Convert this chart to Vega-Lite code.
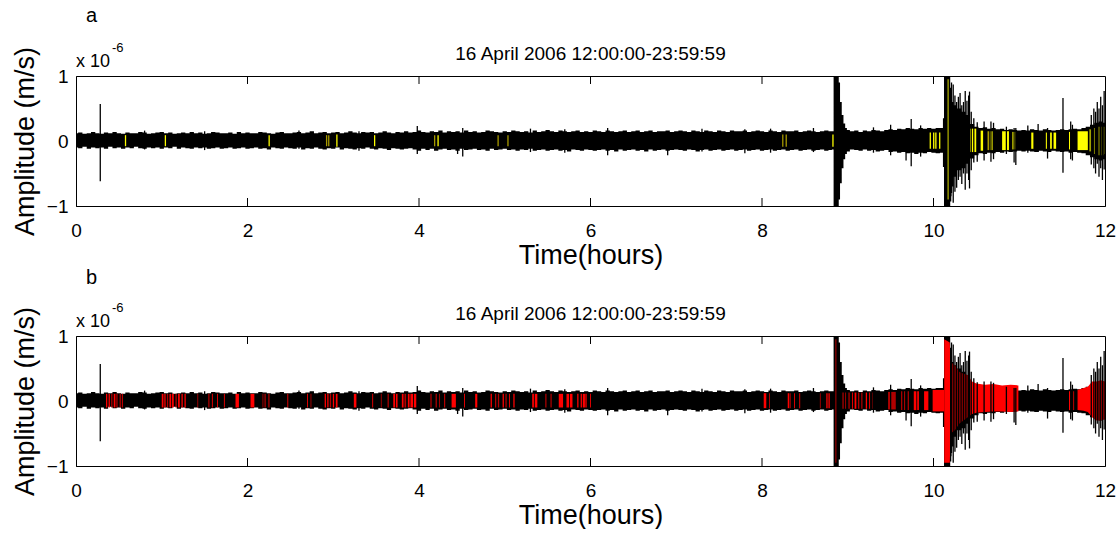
{
  "$schema": "https://vega.github.io/schema/vega-lite/v6.json",
  "background": "white",
  "padding": {"left": 10, "top": 5, "right": 0, "bottom": 0},
  "spacing": -2,
  "resolve": {"scale": {"color": "independent"}},
  "config": {
    "font": "Liberation Sans",
    "view": {"stroke": "black", "strokeWidth": 1},
    "axis": {"domainColor": "black", "labelColor": "black", "titleColor": "black", "labelFont": "Liberation Sans", "titleFont": "Liberation Sans", "labelFontSize": 19, "titleFontSize": 27, "titleFontWeight": "normal", "ticks": false, "grid": false, "format": "d"}
  },
  "datasets": {
    "env": [
      {"t":0,"hi":0.12,"lo":-0.10},{"t":0.05,"hi":0.13,"lo":-0.11},{"t":0.1,"hi":0.11,"lo":-0.09},{"t":0.15,"hi":0.12,"lo":-0.12},{"t":0.2,"hi":0.14,"lo":-0.10},{"t":0.25,"hi":0.12,"lo":-0.11},{"t":0.3,"hi":0.11,"lo":-0.10},{"t":0.35,"hi":0.13,"lo":-0.12},{"t":0.4,"hi":0.12,"lo":-0.09},{"t":0.45,"hi":0.14,"lo":-0.11},
      {"t":0.5,"hi":0.12,"lo":-0.10},{"t":0.55,"hi":0.11,"lo":-0.12},{"t":0.6,"hi":0.13,"lo":-0.10},{"t":0.65,"hi":0.12,"lo":-0.11},{"t":0.7,"hi":0.12,"lo":-0.09},{"t":0.75,"hi":0.14,"lo":-0.11},{"t":0.8,"hi":0.13,"lo":-0.12},{"t":0.85,"hi":0.11,"lo":-0.10},{"t":0.9,"hi":0.12,"lo":-0.11},{"t":0.95,"hi":0.13,"lo":-0.10},
      {"t":1.0,"hi":0.14,"lo":-0.12},{"t":1.05,"hi":0.12,"lo":-0.10},{"t":1.1,"hi":0.13,"lo":-0.11},{"t":1.15,"hi":0.11,"lo":-0.09},{"t":1.2,"hi":0.12,"lo":-0.12},{"t":1.25,"hi":0.13,"lo":-0.10},{"t":1.3,"hi":0.12,"lo":-0.11},{"t":1.35,"hi":0.14,"lo":-0.12},{"t":1.4,"hi":0.12,"lo":-0.10},{"t":1.45,"hi":0.13,"lo":-0.11},
      {"t":1.5,"hi":0.11,"lo":-0.10},{"t":1.55,"hi":0.12,"lo":-0.12},{"t":1.6,"hi":0.14,"lo":-0.11},{"t":1.65,"hi":0.13,"lo":-0.10},{"t":1.7,"hi":0.12,"lo":-0.12},{"t":1.75,"hi":0.12,"lo":-0.11},{"t":1.8,"hi":0.13,"lo":-0.10},{"t":1.85,"hi":0.11,"lo":-0.12},{"t":1.9,"hi":0.14,"lo":-0.11},{"t":1.95,"hi":0.12,"lo":-0.10},
      {"t":2.0,"hi":0.13,"lo":-0.12},{"t":2.05,"hi":0.12,"lo":-0.11},{"t":2.1,"hi":0.12,"lo":-0.10},{"t":2.15,"hi":0.14,"lo":-0.12},{"t":2.2,"hi":0.13,"lo":-0.11},{"t":2.25,"hi":0.12,"lo":-0.13},{"t":2.3,"hi":0.11,"lo":-0.10},{"t":2.35,"hi":0.13,"lo":-0.11},{"t":2.4,"hi":0.14,"lo":-0.12},{"t":2.45,"hi":0.12,"lo":-0.10},
      {"t":2.5,"hi":0.12,"lo":-0.11},{"t":2.55,"hi":0.13,"lo":-0.12},{"t":2.6,"hi":0.14,"lo":-0.10},{"t":2.65,"hi":0.12,"lo":-0.13},{"t":2.7,"hi":0.13,"lo":-0.11},{"t":2.75,"hi":0.15,"lo":-0.12},{"t":2.8,"hi":0.12,"lo":-0.10},{"t":2.85,"hi":0.13,"lo":-0.12},{"t":2.9,"hi":0.14,"lo":-0.13},{"t":2.95,"hi":0.12,"lo":-0.11},
      {"t":3.0,"hi":0.13,"lo":-0.12},{"t":3.05,"hi":0.14,"lo":-0.10},{"t":3.1,"hi":0.12,"lo":-0.13},{"t":3.15,"hi":0.13,"lo":-0.11},{"t":3.2,"hi":0.15,"lo":-0.12},{"t":3.25,"hi":0.13,"lo":-0.13},{"t":3.3,"hi":0.12,"lo":-0.11},{"t":3.35,"hi":0.14,"lo":-0.12},{"t":3.4,"hi":0.13,"lo":-0.10},{"t":3.45,"hi":0.14,"lo":-0.12},
      {"t":3.5,"hi":0.12,"lo":-0.13},{"t":3.55,"hi":0.13,"lo":-0.11},{"t":3.6,"hi":0.15,"lo":-0.12},{"t":3.65,"hi":0.13,"lo":-0.14},{"t":3.7,"hi":0.12,"lo":-0.11},{"t":3.75,"hi":0.14,"lo":-0.12},{"t":3.8,"hi":0.13,"lo":-0.13},{"t":3.85,"hi":0.15,"lo":-0.12},{"t":3.9,"hi":0.13,"lo":-0.11},{"t":3.95,"hi":0.14,"lo":-0.13},{"t":4.0,"hi":0.16,"lo":-0.15},
      {"t":4.05,"hi":0.14,"lo":-0.12},{"t":4.1,"hi":0.13,"lo":-0.14},{"t":4.15,"hi":0.15,"lo":-0.12},{"t":4.2,"hi":0.14,"lo":-0.15},{"t":4.25,"hi":0.16,"lo":-0.13},{"t":4.3,"hi":0.13,"lo":-0.12},{"t":4.35,"hi":0.15,"lo":-0.14},{"t":4.4,"hi":0.14,"lo":-0.13},{"t":4.45,"hi":0.15,"lo":-0.15},{"t":4.5,"hi":0.13,"lo":-0.12},
      {"t":4.55,"hi":0.16,"lo":-0.14},{"t":4.6,"hi":0.14,"lo":-0.13},{"t":4.65,"hi":0.15,"lo":-0.12},{"t":4.7,"hi":0.13,"lo":-0.14},{"t":4.75,"hi":0.14,"lo":-0.13},{"t":4.8,"hi":0.16,"lo":-0.15},{"t":4.85,"hi":0.15,"lo":-0.12},{"t":4.9,"hi":0.14,"lo":-0.14},{"t":4.95,"hi":0.13,"lo":-0.13},{"t":5.0,"hi":0.15,"lo":-0.12},
      {"t":5.05,"hi":0.14,"lo":-0.14},{"t":5.1,"hi":0.16,"lo":-0.13},{"t":5.15,"hi":0.15,"lo":-0.15},{"t":5.2,"hi":0.14,"lo":-0.13},{"t":5.25,"hi":0.15,"lo":-0.14},{"t":5.3,"hi":0.13,"lo":-0.12},{"t":5.35,"hi":0.16,"lo":-0.15},{"t":5.4,"hi":0.14,"lo":-0.14},{"t":5.45,"hi":0.15,"lo":-0.13},{"t":5.5,"hi":0.17,"lo":-0.15},
      {"t":5.55,"hi":0.15,"lo":-0.14},{"t":5.6,"hi":0.14,"lo":-0.13},{"t":5.65,"hi":0.16,"lo":-0.15},{"t":5.7,"hi":0.15,"lo":-0.14},{"t":5.75,"hi":0.14,"lo":-0.16},{"t":5.8,"hi":0.15,"lo":-0.13},{"t":5.85,"hi":0.16,"lo":-0.14},{"t":5.9,"hi":0.14,"lo":-0.15},{"t":5.95,"hi":0.15,"lo":-0.13},{"t":6.0,"hi":0.14,"lo":-0.14},
      {"t":6.05,"hi":0.16,"lo":-0.15},{"t":6.1,"hi":0.15,"lo":-0.14},{"t":6.15,"hi":0.14,"lo":-0.13},{"t":6.2,"hi":0.16,"lo":-0.15},{"t":6.25,"hi":0.15,"lo":-0.14},{"t":6.3,"hi":0.14,"lo":-0.16},{"t":6.35,"hi":0.15,"lo":-0.13},{"t":6.4,"hi":0.16,"lo":-0.15},{"t":6.45,"hi":0.14,"lo":-0.14},{"t":6.5,"hi":0.15,"lo":-0.13},
      {"t":6.55,"hi":0.16,"lo":-0.15},{"t":6.6,"hi":0.14,"lo":-0.14},{"t":6.65,"hi":0.15,"lo":-0.16},{"t":6.7,"hi":0.16,"lo":-0.13},{"t":6.75,"hi":0.14,"lo":-0.15},{"t":6.8,"hi":0.15,"lo":-0.14},{"t":6.85,"hi":0.15,"lo":-0.13},{"t":6.9,"hi":0.16,"lo":-0.15},{"t":6.95,"hi":0.14,"lo":-0.14},{"t":7.0,"hi":0.15,"lo":-0.13},
      {"t":7.05,"hi":0.16,"lo":-0.14},{"t":7.1,"hi":0.15,"lo":-0.15},{"t":7.15,"hi":0.14,"lo":-0.13},{"t":7.2,"hi":0.16,"lo":-0.14},{"t":7.25,"hi":0.15,"lo":-0.16},{"t":7.3,"hi":0.14,"lo":-0.14},{"t":7.35,"hi":0.16,"lo":-0.13},{"t":7.4,"hi":0.15,"lo":-0.15},{"t":7.45,"hi":0.14,"lo":-0.14},{"t":7.5,"hi":0.16,"lo":-0.13},
      {"t":7.55,"hi":0.15,"lo":-0.15},{"t":7.6,"hi":0.14,"lo":-0.14},{"t":7.65,"hi":0.16,"lo":-0.13},{"t":7.7,"hi":0.15,"lo":-0.15},{"t":7.75,"hi":0.15,"lo":-0.14},{"t":7.8,"hi":0.16,"lo":-0.13},{"t":7.85,"hi":0.14,"lo":-0.15},{"t":7.9,"hi":0.15,"lo":-0.14},{"t":7.95,"hi":0.16,"lo":-0.13},{"t":8.0,"hi":0.15,"lo":-0.15},
      {"t":8.05,"hi":0.14,"lo":-0.14},{"t":8.1,"hi":0.16,"lo":-0.13},{"t":8.15,"hi":0.15,"lo":-0.15},{"t":8.2,"hi":0.14,"lo":-0.14},{"t":8.25,"hi":0.16,"lo":-0.13},{"t":8.3,"hi":0.15,"lo":-0.15},{"t":8.35,"hi":0.15,"lo":-0.14},{"t":8.4,"hi":0.16,"lo":-0.13},{"t":8.45,"hi":0.14,"lo":-0.15},{"t":8.5,"hi":0.15,"lo":-0.14},
      {"t":8.55,"hi":0.16,"lo":-0.13},{"t":8.6,"hi":0.15,"lo":-0.15},{"t":8.65,"hi":0.14,"lo":-0.14},{"t":8.7,"hi":0.15,"lo":-0.13},{"t":8.75,"hi":0.16,"lo":-0.15},{"t":8.8,"hi":0.15,"lo":-0.14},
      {"t":8.83,"hi":0.15,"lo":-0.13},{"t":8.84,"hi":1,"lo":-1},{"t":8.89,"hi":1,"lo":-1},{"t":8.9,"hi":0.9,"lo":-0.9},{"t":8.92,"hi":0.6,"lo":-0.65},{"t":8.94,"hi":0.4,"lo":-0.42},{"t":8.96,"hi":0.27,"lo":-0.28},{"t":8.98,"hi":0.2,"lo":-0.2},{"t":9.0,"hi":0.17,"lo":-0.16},
      {"t":9.05,"hi":0.15,"lo":-0.13},{"t":9.1,"hi":0.16,"lo":-0.14},{"t":9.15,"hi":0.14,"lo":-0.15},{"t":9.2,"hi":0.16,"lo":-0.13},{"t":9.25,"hi":0.15,"lo":-0.15},{"t":9.3,"hi":0.17,"lo":-0.14},{"t":9.35,"hi":0.16,"lo":-0.16},{"t":9.4,"hi":0.15,"lo":-0.15},{"t":9.45,"hi":0.17,"lo":-0.14},{"t":9.5,"hi":0.18,"lo":-0.17},
      {"t":9.55,"hi":0.17,"lo":-0.16},{"t":9.6,"hi":0.19,"lo":-0.18},{"t":9.65,"hi":0.18,"lo":-0.17},{"t":9.7,"hi":0.2,"lo":-0.19},{"t":9.75,"hi":0.19,"lo":-0.18},{"t":9.8,"hi":0.18,"lo":-0.2},{"t":9.85,"hi":0.2,"lo":-0.18},{"t":9.9,"hi":0.19,"lo":-0.19},{"t":9.95,"hi":0.2,"lo":-0.17},
      {"t":10.0,"hi":0.19,"lo":-0.18},{"t":10.05,"hi":0.2,"lo":-0.19},{"t":10.1,"hi":0.2,"lo":-0.18},{"t":10.12,"hi":0.35,"lo":-0.4},{"t":10.125,"hi":1,"lo":-1},{"t":10.19,"hi":1,"lo":-1},{"t":10.2,"hi":0.75,"lo":-0.85},{"t":10.22,"hi":0.6,"lo":-0.7},{"t":10.25,"hi":0.55,"lo":-0.55},{"t":10.3,"hi":0.5,"lo":-0.45},{"t":10.35,"hi":0.45,"lo":-0.42},{"t":10.4,"hi":0.4,"lo":-0.35},{"t":10.45,"hi":0.26,"lo":-0.27},{"t":10.5,"hi":0.22,"lo":-0.22},
      {"t":10.55,"hi":0.2,"lo":-0.19},{"t":10.6,"hi":0.21,"lo":-0.2},{"t":10.65,"hi":0.19,"lo":-0.18},{"t":10.7,"hi":0.2,"lo":-0.19},{"t":10.75,"hi":0.18,"lo":-0.17},{"t":10.8,"hi":0.19,"lo":-0.18},{"t":10.85,"hi":0.17,"lo":-0.16},{"t":10.9,"hi":0.18,"lo":-0.17},{"t":10.95,"hi":0.17,"lo":-0.16},{"t":11.0,"hi":0.16,"lo":-0.15},
      {"t":11.05,"hi":0.17,"lo":-0.16},{"t":11.1,"hi":0.16,"lo":-0.15},{"t":11.15,"hi":0.18,"lo":-0.16},{"t":11.2,"hi":0.17,"lo":-0.17},{"t":11.25,"hi":0.16,"lo":-0.15},{"t":11.3,"hi":0.18,"lo":-0.16},{"t":11.35,"hi":0.17,"lo":-0.17},{"t":11.4,"hi":0.16,"lo":-0.15},{"t":11.45,"hi":0.17,"lo":-0.16},{"t":11.5,"hi":0.18,"lo":-0.17},
      {"t":11.55,"hi":0.17,"lo":-0.16},{"t":11.6,"hi":0.18,"lo":-0.18},{"t":11.65,"hi":0.19,"lo":-0.17},{"t":11.7,"hi":0.18,"lo":-0.18},{"t":11.75,"hi":0.2,"lo":-0.19},{"t":11.8,"hi":0.22,"lo":-0.22},{"t":11.85,"hi":0.25,"lo":-0.25},{"t":11.9,"hi":0.28,"lo":-0.28},{"t":11.95,"hi":0.3,"lo":-0.3},{"t":12.0,"hi":0.28,"lo":-0.28}
    ],
    "spk": [
      {"t":0.283,"hi":0.57,"lo":-0.62},
      {"t":0.8,"hi":0.16,"lo":-0.13},{"t":1.5,"hi":0.15,"lo":-0.14},{"t":2.6,"hi":0.16,"lo":-0.12},{"t":3.3,"hi":0.15,"lo":-0.15},{"t":3.98,"hi":0.23,"lo":-0.2},{"t":4.45,"hi":0.14,"lo":-0.2},{"t":4.51,"hi":0.2,"lo":-0.24},{"t":5.3,"hi":0.19,"lo":-0.17},{"t":5.7,"hi":0.18,"lo":-0.18},{"t":6.2,"hi":0.2,"lo":-0.22},{"t":6.9,"hi":0.14,"lo":-0.22},{"t":7.3,"hi":0.19,"lo":-0.16},{"t":7.8,"hi":0.18,"lo":-0.19},{"t":8.1,"hi":0.19,"lo":-0.18},{"t":8.6,"hi":0.2,"lo":-0.17},
      {"t":9.3,"hi":0.21,"lo":-0.18},{"t":9.5,"hi":0.25,"lo":-0.22},{"t":9.68,"hi":0.18,"lo":-0.3},{"t":9.74,"hi":0.34,"lo":-0.39},{"t":9.85,"hi":0.24,"lo":-0.24},
      {"t":10.2,"hi":0.82,"lo":-0.93},{"t":10.21,"hi":0.9,"lo":-0.8},{"t":10.23,"hi":0.87,"lo":-0.95},{"t":10.25,"hi":0.7,"lo":-0.78},{"t":10.27,"hi":0.6,"lo":-0.72},{"t":10.29,"hi":0.68,"lo":-0.6},{"t":10.31,"hi":0.74,"lo":-0.55},{"t":10.33,"hi":0.55,"lo":-0.66},{"t":10.35,"hi":0.6,"lo":-0.5},{"t":10.37,"hi":0.77,"lo":-0.75},{"t":10.39,"hi":0.62,"lo":-0.5},{"t":10.41,"hi":0.7,"lo":-0.6},{"t":10.42,"hi":0.76,"lo":-0.73},{"t":10.44,"hi":0.45,"lo":-0.45},{"t":10.47,"hi":0.35,"lo":-0.33},{"t":10.51,"hi":0.29,"lo":-0.32},{"t":10.59,"hi":0.3,"lo":-0.3},{"t":10.67,"hi":0.3,"lo":-0.32},{"t":10.7,"hi":0.28,"lo":-0.28},{"t":10.85,"hi":0.22,"lo":-0.2},{"t":10.94,"hi":0.2,"lo":-0.33},{"t":10.96,"hi":0.2,"lo":-0.37},{"t":11.1,"hi":0.24,"lo":-0.18},{"t":11.22,"hi":0.26,"lo":-0.17},{"t":11.33,"hi":0.2,"lo":-0.27},{"t":11.51,"hi":0.66,"lo":-0.49},{"t":11.6,"hi":0.3,"lo":-0.28},{"t":11.62,"hi":0.25,"lo":-0.3},{"t":11.84,"hi":0.4,"lo":-0.36},{"t":11.87,"hi":0.5,"lo":-0.42},{"t":11.89,"hi":0.45,"lo":-0.5},{"t":11.91,"hi":0.6,"lo":-0.35},{"t":11.93,"hi":0.5,"lo":-0.55},{"t":11.95,"hi":0.68,"lo":-0.42},{"t":11.97,"hi":0.55,"lo":-0.6},{"t":11.99,"hi":0.77,"lo":-0.44}
    ],
    "ticks": [
      {"t":2,"a":1,"b":0.877},{"t":4,"a":1,"b":0.877},{"t":6,"a":1,"b":0.877},{"t":8,"a":1,"b":0.877},{"t":10,"a":1,"b":0.877},
      {"t":2,"a":-1,"b":-0.877},{"t":4,"a":-1,"b":-0.877},{"t":6,"a":-1,"b":-0.877},{"t":8,"a":-1,"b":-0.877},{"t":10,"a":-1,"b":-0.877}
    ],
    "ya": [
      {"t0":0.57,"t1":0.585,"hi":0.09,"lo":-0.08,"k":"bright"},{"t0":1.035,"t1":1.05,"hi":0.09,"lo":-0.08,"k":"bright"},{"t0":2.245,"t1":2.26,"hi":0.09,"lo":-0.08,"k":"bright"},{"t0":2.915,"t1":2.93,"hi":0.09,"lo":-0.08,"k":"dim"},{"t0":2.94,"t1":2.955,"hi":0.09,"lo":-0.08,"k":"dim"},{"t0":3.035,"t1":3.05,"hi":0.1,"lo":-0.09,"k":"bright"},{"t0":3.475,"t1":3.49,"hi":0.09,"lo":-0.08,"k":"bright"},{"t0":4.175,"t1":4.19,"hi":0.09,"lo":-0.08,"k":"dim"},{"t0":4.215,"t1":4.23,"hi":0.09,"lo":-0.08,"k":"bright"},{"t0":4.915,"t1":4.93,"hi":0.09,"lo":-0.08,"k":"dim"},{"t0":5.03,"t1":5.045,"hi":0.09,"lo":-0.08,"k":"dim"},
      {"t0":8.235,"t1":8.25,"hi":0.1,"lo":-0.09,"k":"dim"},{"t0":8.275,"t1":8.29,"hi":0.1,"lo":-0.09,"k":"dim"},{"t0":8.82,"t1":8.835,"hi":0.1,"lo":-0.09,"k":"bright"},
      {"t0":9.955,"t1":9.97,"hi":0.13,"lo":-0.12,"k":"bright"},{"t0":9.995,"t1":10.01,"hi":0.13,"lo":-0.12,"k":"bright"},{"t0":10.02,"t1":10.035,"hi":0.13,"lo":-0.12,"k":"bright"},{"t0":10.065,"t1":10.08,"hi":0.13,"lo":-0.12,"k":"bright"},{"t0":10.165,"t1":10.175,"hi":0.95,"lo":-0.9,"k":"bright"},
      {"t0":10.42,"t1":10.5,"hi":0.19,"lo":-0.17,"k":"bright"},{"t0":10.55,"t1":10.58,"hi":0.16,"lo":-0.15,"k":"bright"},{"t0":10.63,"t1":10.65,"hi":0.15,"lo":-0.14,"k":"dim"},{"t0":10.66,"t1":10.69,"hi":0.15,"lo":-0.14,"k":"bright"},{"t0":10.8,"t1":10.88,"hi":0.15,"lo":-0.14,"k":"bright"},{"t0":10.92,"t1":10.96,"hi":0.14,"lo":-0.13,"k":"bright"},{"t0":11.14,"t1":11.165,"hi":0.13,"lo":-0.12,"k":"bright"},{"t0":11.31,"t1":11.325,"hi":0.13,"lo":-0.12,"k":"bright"},{"t0":11.36,"t1":11.38,"hi":0.13,"lo":-0.12,"k":"bright"},{"t0":11.4,"t1":11.43,"hi":0.13,"lo":-0.12,"k":"bright"},{"t0":11.58,"t1":11.595,"hi":0.14,"lo":-0.13,"k":"bright"},{"t0":11.68,"t1":11.8,"hi":0.15,"lo":-0.14,"k":"bright"},{"t0":11.82,"t1":11.84,"hi":0.18,"lo":-0.16,"k":"bright"},{"t0":11.87,"t1":11.89,"hi":0.2,"lo":-0.2,"k":"bright"},{"t0":11.92,"t1":11.94,"hi":0.22,"lo":-0.22,"k":"bright"},{"t0":11.96,"t1":11.98,"hi":0.22,"lo":-0.22,"k":"bright"},{"t0":11.99,"t1":12.0,"hi":0.22,"lo":-0.2,"k":"bright"}
    ],
    "rs": [
      {"t0":0.35,"t1":0.365,"hi":0.11,"lo":-0.1,"k":"bright"},{"t0":0.38,"t1":0.395,"hi":0.11,"lo":-0.1,"k":"bright"},{"t0":0.41,"t1":0.425,"hi":0.11,"lo":-0.1,"k":"dim"},{"t0":0.44,"t1":0.46,"hi":0.11,"lo":-0.1,"k":"bright"},{"t0":0.47,"t1":0.485,"hi":0.11,"lo":-0.1,"k":"dim"},{"t0":0.51,"t1":0.52,"hi":0.11,"lo":-0.1,"k":"bright"},{"t0":0.535,"t1":0.545,"hi":0.11,"lo":-0.1,"k":"bright"},
      {"t0":1.0,"t1":1.02,"hi":0.11,"lo":-0.1,"k":"bright"},{"t0":1.03,"t1":1.045,"hi":0.11,"lo":-0.1,"k":"bright"},{"t0":1.06,"t1":1.075,"hi":0.11,"lo":-0.1,"k":"dim"},{"t0":1.09,"t1":1.11,"hi":0.11,"lo":-0.1,"k":"bright"},{"t0":1.12,"t1":1.14,"hi":0.11,"lo":-0.1,"k":"bright"},{"t0":1.16,"t1":1.175,"hi":0.11,"lo":-0.1,"k":"dim"},{"t0":1.19,"t1":1.21,"hi":0.11,"lo":-0.1,"k":"bright"},{"t0":1.23,"t1":1.245,"hi":0.11,"lo":-0.1,"k":"bright"},{"t0":1.265,"t1":1.28,"hi":0.11,"lo":-0.1,"k":"bright"},
      {"t0":1.415,"t1":1.425,"hi":0.11,"lo":-0.1,"k":"dim"},{"t0":1.545,"t1":1.555,"hi":0.11,"lo":-0.1,"k":"bright"},{"t0":1.585,"t1":1.595,"hi":0.11,"lo":-0.1,"k":"bright"},{"t0":1.645,"t1":1.655,"hi":0.11,"lo":-0.1,"k":"bright"},{"t0":1.725,"t1":1.735,"hi":0.11,"lo":-0.1,"k":"bright"},{"t0":1.86,"t1":1.9,"hi":0.11,"lo":-0.1,"k":"bright"},{"t0":2.035,"t1":2.08,"hi":0.11,"lo":-0.1,"k":"bright"},{"t0":2.175,"t1":2.185,"hi":0.11,"lo":-0.1,"k":"dim"},{"t0":2.2,"t1":2.21,"hi":0.11,"lo":-0.1,"k":"bright"},{"t0":2.245,"t1":2.255,"hi":0.11,"lo":-0.1,"k":"bright"},{"t0":2.465,"t1":2.475,"hi":0.11,"lo":-0.1,"k":"bright"},
      {"t0":2.695,"t1":2.705,"hi":0.11,"lo":-0.1,"k":"bright"},{"t0":2.735,"t1":2.745,"hi":0.11,"lo":-0.1,"k":"dim"},{"t0":2.9,"t1":2.915,"hi":0.11,"lo":-0.1,"k":"bright"},{"t0":2.93,"t1":2.945,"hi":0.11,"lo":-0.1,"k":"bright"},{"t0":2.96,"t1":2.975,"hi":0.11,"lo":-0.1,"k":"dim"},{"t0":2.995,"t1":3.01,"hi":0.11,"lo":-0.1,"k":"bright"},{"t0":3.03,"t1":3.05,"hi":0.11,"lo":-0.1,"k":"bright"},{"t0":3.24,"t1":3.27,"hi":0.11,"lo":-0.1,"k":"bright"},{"t0":3.455,"t1":3.465,"hi":0.11,"lo":-0.1,"k":"bright"},{"t0":3.555,"t1":3.565,"hi":0.11,"lo":-0.1,"k":"dim"},{"t0":3.635,"t1":3.645,"hi":0.11,"lo":-0.1,"k":"bright"},
      {"t0":3.7,"t1":3.72,"hi":0.11,"lo":-0.1,"k":"bright"},{"t0":3.73,"t1":3.75,"hi":0.11,"lo":-0.1,"k":"bright"},{"t0":3.8,"t1":3.82,"hi":0.11,"lo":-0.1,"k":"bright"},{"t0":3.83,"t1":3.85,"hi":0.11,"lo":-0.1,"k":"dim"},{"t0":3.87,"t1":3.89,"hi":0.11,"lo":-0.1,"k":"bright"},{"t0":3.9,"t1":3.93,"hi":0.11,"lo":-0.1,"k":"bright"},{"t0":3.94,"t1":3.97,"hi":0.11,"lo":-0.1,"k":"bright"},
      {"t0":4.135,"t1":4.145,"hi":0.11,"lo":-0.1,"k":"bright"},{"t0":4.195,"t1":4.205,"hi":0.11,"lo":-0.1,"k":"bright"},{"t0":4.235,"t1":4.245,"hi":0.11,"lo":-0.1,"k":"dim"},{"t0":4.295,"t1":4.305,"hi":0.11,"lo":-0.1,"k":"bright"},{"t0":4.38,"t1":4.43,"hi":0.11,"lo":-0.1,"k":"bright"},{"t0":4.525,"t1":4.535,"hi":0.11,"lo":-0.1,"k":"bright"},{"t0":4.655,"t1":4.68,"hi":0.11,"lo":-0.1,"k":"bright"},
      {"t0":4.835,"t1":4.85,"hi":0.11,"lo":-0.1,"k":"bright"},{"t0":4.89,"t1":4.9,"hi":0.11,"lo":-0.1,"k":"bright"},{"t0":4.92,"t1":4.935,"hi":0.11,"lo":-0.1,"k":"dim"},{"t0":4.975,"t1":4.99,"hi":0.11,"lo":-0.1,"k":"bright"},{"t0":5.01,"t1":5.02,"hi":0.11,"lo":-0.1,"k":"bright"},{"t0":5.05,"t1":5.06,"hi":0.11,"lo":-0.1,"k":"bright"},{"t0":5.1,"t1":5.115,"hi":0.11,"lo":-0.1,"k":"bright"},
      {"t0":5.32,"t1":5.34,"hi":0.11,"lo":-0.1,"k":"bright"},{"t0":5.35,"t1":5.38,"hi":0.11,"lo":-0.1,"k":"bright"},{"t0":5.475,"t1":5.485,"hi":0.11,"lo":-0.1,"k":"bright"},{"t0":5.535,"t1":5.545,"hi":0.11,"lo":-0.1,"k":"bright"},{"t0":5.63,"t1":5.68,"hi":0.11,"lo":-0.1,"k":"bright"},{"t0":5.72,"t1":5.75,"hi":0.11,"lo":-0.1,"k":"bright"},{"t0":5.76,"t1":5.79,"hi":0.11,"lo":-0.1,"k":"bright"},
      {"t0":5.845,"t1":5.86,"hi":0.11,"lo":-0.1,"k":"bright"},{"t0":5.885,"t1":5.9,"hi":0.11,"lo":-0.1,"k":"bright"},{"t0":5.91,"t1":5.935,"hi":0.11,"lo":-0.1,"k":"bright"},{"t0":5.94,"t1":5.955,"hi":0.11,"lo":-0.1,"k":"bright"},{"t0":5.995,"t1":6.005,"hi":0.11,"lo":-0.1,"k":"bright"},
      {"t0":8.02,"t1":8.05,"hi":0.12,"lo":-0.11,"k":"bright"},{"t0":8.085,"t1":8.095,"hi":0.12,"lo":-0.11,"k":"bright"},{"t0":8.3,"t1":8.315,"hi":0.12,"lo":-0.11,"k":"bright"},{"t0":8.32,"t1":8.335,"hi":0.12,"lo":-0.11,"k":"dim"},{"t0":8.375,"t1":8.385,"hi":0.12,"lo":-0.11,"k":"bright"},{"t0":8.435,"t1":8.445,"hi":0.12,"lo":-0.11,"k":"bright"},{"t0":8.675,"t1":8.685,"hi":0.12,"lo":-0.11,"k":"dim"},{"t0":8.75,"t1":8.765,"hi":0.12,"lo":-0.11,"k":"bright"},{"t0":8.775,"t1":8.79,"hi":0.12,"lo":-0.11,"k":"bright"},
      {"t0":8.858,"t1":8.866,"hi":0.95,"lo":-0.95,"k":"bright"},
      {"t0":8.94,"t1":8.95,"hi":0.13,"lo":-0.12,"k":"bright"},{"t0":8.97,"t1":8.98,"hi":0.13,"lo":-0.12,"k":"dim"},{"t0":9.01,"t1":9.02,"hi":0.13,"lo":-0.12,"k":"bright"},{"t0":9.05,"t1":9.06,"hi":0.13,"lo":-0.12,"k":"bright"},{"t0":9.08,"t1":9.1,"hi":0.13,"lo":-0.12,"k":"bright"},{"t0":9.12,"t1":9.135,"hi":0.13,"lo":-0.12,"k":"dim"},{"t0":9.16,"t1":9.17,"hi":0.13,"lo":-0.12,"k":"bright"},{"t0":9.21,"t1":9.225,"hi":0.13,"lo":-0.12,"k":"bright"},{"t0":9.25,"t1":9.26,"hi":0.13,"lo":-0.12,"k":"bright"},{"t0":9.29,"t1":9.305,"hi":0.13,"lo":-0.12,"k":"bright"},
      {"t0":9.47,"t1":9.56,"hi":0.14,"lo":-0.13,"k":"dim"},{"t0":9.625,"t1":9.635,"hi":0.15,"lo":-0.14,"k":"bright"},{"t0":9.66,"t1":9.67,"hi":0.15,"lo":-0.14,"k":"bright"},{"t0":9.7,"t1":9.71,"hi":0.15,"lo":-0.14,"k":"bright"},{"t0":9.77,"t1":9.8,"hi":0.15,"lo":-0.14,"k":"bright"},{"t0":9.81,"t1":9.83,"hi":0.15,"lo":-0.14,"k":"bright"},{"t0":9.89,"t1":9.94,"hi":0.15,"lo":-0.14,"k":"bright"},{"t0":9.99,"t1":10.125,"hi":0.17,"lo":-0.16,"k":"bright"},
      {"t0":11.58,"t1":11.6,"hi":0.15,"lo":-0.14,"k":"bright"},{"t0":11.62,"t1":11.64,"hi":0.15,"lo":-0.14,"k":"dim"}
    ],
    "rb": [
      {"t":10.125,"hi":0.95,"lo":-0.95,"seg":1},{"t":10.19,"hi":0.9,"lo":-0.95,"seg":1},{"t":10.2,"hi":0.6,"lo":-0.5,"seg":1},{"t":10.25,"hi":0.55,"lo":-0.45,"seg":1},{"t":10.3,"hi":0.45,"lo":-0.35,"seg":1},{"t":10.35,"hi":0.42,"lo":-0.3,"seg":1},{"t":10.4,"hi":0.4,"lo":-0.25,"seg":1},{"t":10.45,"hi":0.3,"lo":-0.2,"seg":1},{"t":10.5,"hi":0.27,"lo":-0.18,"seg":1},{"t":10.6,"hi":0.25,"lo":-0.17,"seg":1},{"t":10.7,"hi":0.26,"lo":-0.16,"seg":1},{"t":10.8,"hi":0.24,"lo":-0.16,"seg":1},{"t":10.9,"hi":0.25,"lo":-0.17,"seg":1},{"t":10.99,"hi":0.24,"lo":-0.16,"seg":1},
      {"t":11.68,"hi":0.17,"lo":-0.14,"seg":2},{"t":11.75,"hi":0.2,"lo":-0.15,"seg":2},{"t":11.8,"hi":0.22,"lo":-0.17,"seg":2},{"t":11.85,"hi":0.3,"lo":-0.25,"seg":2},{"t":11.9,"hi":0.3,"lo":-0.3,"seg":2},{"t":11.95,"hi":0.32,"lo":-0.3,"seg":2},{"t":12.0,"hi":0.3,"lo":-0.28,"seg":2}
    ]
  },
  "vconcat": [
    {
      "width": 1029, "height": 130,
      "layer": [
        {"data": {"name": "env"}, "mark": {"type": "area", "color": "black", "interpolate": "step"},
         "encoding": {
           "x": {"field": "t", "type": "quantitative", "scale": {"domain": [0, 12], "nice": false, "zero": false}, "axis": {"orient": "bottom", "values": [0,2,4,6,8,10,12], "title": "Time(hours)", "labelPadding": 15, "titlePadding": 2, "labelFlush": false}},
           "y": {"field": "hi", "type": "quantitative", "scale": {"domain": [-1, 1], "nice": false}, "axis": {"values": [-1,0,1], "title": "Amplitude (m/s)", "labelPadding": 8, "titlePadding": 7}},
           "y2": {"field": "lo"}}},
        {"data": {"name": "ya"}, "mark": {"type": "rect"},
         "encoding": {
           "x": {"field": "t0", "type": "quantitative"}, "x2": {"field": "t1"},
           "y": {"field": "hi", "type": "quantitative"}, "y2": {"field": "lo"},
           "color": {"field": "k", "type": "nominal", "scale": {"domain": ["bright", "dim"], "range": ["#ffff00", "#a89a00"]}, "legend": null}}},
        {"data": {"name": "spk"}, "mark": {"type": "rule", "color": "#000", "strokeWidth": 1.3},
         "encoding": {
           "x": {"field": "t", "type": "quantitative"},
           "y": {"field": "hi", "type": "quantitative"}, "y2": {"field": "lo"}}},
        {"data": {"name": "ticks"}, "mark": {"type": "rule", "color": "black", "strokeWidth": 1},
         "encoding": {
           "x": {"field": "t", "type": "quantitative"},
           "y": {"field": "a", "type": "quantitative"}, "y2": {"field": "b"}}},
        {"data": {"values": [{"t": 0.117, "v": 1.83, "s": "a"}]}, "mark": {"type": "text", "fontSize": 20, "align": "left", "baseline": "alphabetic", "color": "black"},
         "encoding": {"x": {"field": "t", "type": "quantitative"}, "y": {"field": "v", "type": "quantitative"}, "text": {"field": "s"}}},
        {"data": {"values": [{"t": 0, "v": 1.14, "s": "x 10"}]}, "mark": {"type": "text", "fontSize": 18, "align": "left", "baseline": "alphabetic", "color": "black"},
         "encoding": {"x": {"field": "t", "type": "quantitative"}, "y": {"field": "v", "type": "quantitative"}, "text": {"field": "s"}}},
        {"data": {"values": [{"t": 6, "v": 1.25, "s": "16 April 2006 12:00:00-23:59:59"}]}, "mark": {"type": "text", "fontSize": 19, "align": "center", "baseline": "alphabetic", "color": "black"},
         "encoding": {"x": {"field": "t", "type": "quantitative"}, "y": {"field": "v", "type": "quantitative"}, "text": {"field": "s"}}},
        {"data": {"values": [{"t": 0.42, "v": 1.37, "s": "-6"}]}, "mark": {"type": "text", "fontSize": 13, "align": "left", "baseline": "alphabetic", "color": "black"},
         "encoding": {"x": {"field": "t", "type": "quantitative"}, "y": {"field": "v", "type": "quantitative"}, "text": {"field": "s"}}}
      ]
    },
    {
      "width": 1029, "height": 130,
      "layer": [
        {"data": {"name": "env"}, "mark": {"type": "area", "color": "black", "interpolate": "step"},
         "encoding": {
           "x": {"field": "t", "type": "quantitative", "scale": {"domain": [0, 12], "nice": false, "zero": false}, "axis": {"orient": "bottom", "values": [0,2,4,6,8,10,12], "title": "Time(hours)", "labelPadding": 15, "titlePadding": 2, "labelFlush": false}},
           "y": {"field": "hi", "type": "quantitative", "scale": {"domain": [-1, 1], "nice": false}, "axis": {"values": [-1,0,1], "title": "Amplitude (m/s)", "labelPadding": 8, "titlePadding": 7}},
           "y2": {"field": "lo"}}},
        {"data": {"name": "rb"}, "mark": {"type": "area", "color": "#ff0000"},
         "encoding": {
           "x": {"field": "t", "type": "quantitative"},
           "y": {"field": "hi", "type": "quantitative"}, "y2": {"field": "lo"},
           "detail": {"field": "seg", "type": "nominal"}}},
        {"data": {"name": "rs"}, "mark": {"type": "rect"},
         "encoding": {
           "x": {"field": "t0", "type": "quantitative"}, "x2": {"field": "t1"},
           "y": {"field": "hi", "type": "quantitative"}, "y2": {"field": "lo"},
           "color": {"field": "k", "type": "nominal", "scale": {"domain": ["bright", "dim"], "range": ["#ff0000", "#b00000"]}, "legend": null}}},
        {"data": {"name": "spk"}, "mark": {"type": "rule", "color": "#000", "strokeWidth": 1.3},
         "encoding": {
           "x": {"field": "t", "type": "quantitative"},
           "y": {"field": "hi", "type": "quantitative"}, "y2": {"field": "lo"}}},
        {"data": {"name": "ticks"}, "mark": {"type": "rule", "color": "black", "strokeWidth": 1},
         "encoding": {
           "x": {"field": "t", "type": "quantitative"},
           "y": {"field": "a", "type": "quantitative"}, "y2": {"field": "b"}}},
        {"data": {"values": [{"t": 0.117, "v": 1.8, "s": "b"}]}, "mark": {"type": "text", "fontSize": 20, "align": "left", "baseline": "alphabetic", "color": "black"},
         "encoding": {"x": {"field": "t", "type": "quantitative"}, "y": {"field": "v", "type": "quantitative"}, "text": {"field": "s"}}},
        {"data": {"values": [{"t": 0, "v": 1.14, "s": "x 10"}]}, "mark": {"type": "text", "fontSize": 18, "align": "left", "baseline": "alphabetic", "color": "black"},
         "encoding": {"x": {"field": "t", "type": "quantitative"}, "y": {"field": "v", "type": "quantitative"}, "text": {"field": "s"}}},
        {"data": {"values": [{"t": 6, "v": 1.25, "s": "16 April 2006 12:00:00-23:59:59"}]}, "mark": {"type": "text", "fontSize": 19, "align": "center", "baseline": "alphabetic", "color": "black"},
         "encoding": {"x": {"field": "t", "type": "quantitative"}, "y": {"field": "v", "type": "quantitative"}, "text": {"field": "s"}}},
        {"data": {"values": [{"t": 0.42, "v": 1.37, "s": "-6"}]}, "mark": {"type": "text", "fontSize": 13, "align": "left", "baseline": "alphabetic", "color": "black"},
         "encoding": {"x": {"field": "t", "type": "quantitative"}, "y": {"field": "v", "type": "quantitative"}, "text": {"field": "s"}}}
      ]
    }
  ]
}
